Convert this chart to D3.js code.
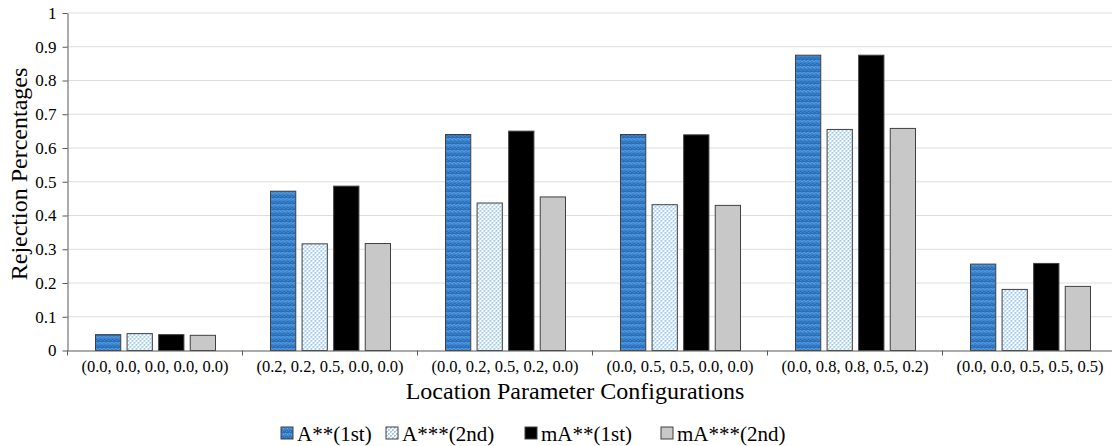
<!DOCTYPE html>
<html>
<head>
<meta charset="utf-8">
<script src="https://cdn.jsdelivr.net/npm/d3@7"></script>
<style>
  body { margin: 0; background: #fff; }
</style>
</head>
<body>
<svg id="chart" width="1112" height="446"></svg>
<script>
// categories (location parameter configurations)
var categories = ["(0.0, 0.0, 0.0, 0.0, 0.0)", "(0.2, 0.2, 0.5, 0.0, 0.0)", "(0.0, 0.2, 0.5, 0.2, 0.0)",
                  "(0.0, 0.5, 0.5, 0.0, 0.0)", "(0.0, 0.8, 0.8, 0.5, 0.2)", "(0.0, 0.0, 0.5, 0.5, 0.5)"];
var seriesNames = ["A**(1st)", "A***(2nd)", "mA**(1st)", "mA***(2nd)"];

// rejection percentages, one array per series
var a1st  = [0.047, 0.472, 0.640, 0.640, 0.875, 0.256];
var a2nd  = [0.050, 0.316, 0.437, 0.432, 0.655, 0.181];
var ma1st = [0.047, 0.487, 0.650, 0.639, 0.875, 0.258];
var ma2nd = [0.045, 0.317, 0.455, 0.430, 0.658, 0.190];

var yTicks = [0, 0.1, 0.2, 0.3, 0.4, 0.5, 0.6, 0.7, 0.8, 0.9, 1];

var allSeries = [a1st, a2nd, ma1st, ma2nd];
var fills = ["url(#pat1)", "url(#pat2)", "#000000", "#c8c8c8"];
var serif = "'Liberation Serif', 'Times New Roman', serif";

var svg = d3.select("#chart");

/////////////////////////////
// fill patterns ////////////
var defs = svg.append("defs");

// blue striped / checked pattern
var p1 = defs.append("pattern")
  .attr("id", "pat1").attr("patternUnits", "userSpaceOnUse")
  .attr("width", 4).attr("height", 6);
p1.append("rect").attr("width", 4).attr("height", 6).attr("fill", "#3a86d2");
p1.append("rect").attr("y", 3).attr("width", 4).attr("height", 3).attr("fill", "#2c6fb6");
p1.append("rect").attr("x", 0).attr("y", 0).attr("width", 1).attr("height", 1).attr("fill", "#6aa9e3");
p1.append("rect").attr("x", 2).attr("y", 1).attr("width", 1).attr("height", 1).attr("fill", "#6aa9e3");
p1.append("rect").attr("x", 1).attr("y", 4).attr("width", 1).attr("height", 1).attr("fill", "#4a8fd6");
p1.append("rect").attr("x", 3).attr("y", 3).attr("width", 1).attr("height", 1).attr("fill", "#4a8fd6");

// light blue checker pattern
var p2 = defs.append("pattern")
  .attr("id", "pat2").attr("patternUnits", "userSpaceOnUse")
  .attr("width", 4).attr("height", 4);
p2.append("rect").attr("width", 4).attr("height", 4).attr("fill", "#ffffff");
p2.append("rect").attr("x", 0).attr("y", 0).attr("width", 2).attr("height", 2).attr("fill", "#9fcaf0");
p2.append("rect").attr("x", 2).attr("y", 2).attr("width", 2).attr("height", 2).attr("fill", "#9fcaf0");
p2.append("rect").attr("x", 1).attr("y", 1).attr("width", 1).attr("height", 1).attr("fill", "#d4e7f8");
p2.append("rect").attr("x", 3).attr("y", 3).attr("width", 1).attr("height", 1).attr("fill", "#d4e7f8");

/////////////////////////////
// scales ///////////////////
var plotLeft = 67.5, plotRight = 1117.5, plotTop = 13, plotBottom = 350.5;

var x0 = d3.scaleBand().domain(categories).range([plotLeft, plotRight]);
var x1 = d3.scaleBand().domain(d3.range(seriesNames.length))
  .range([28, x0.bandwidth() - 27]).paddingInner(0.2);
var y = d3.scaleLinear().domain([0, 1]).range([plotBottom, plotTop]);

// gridlines
svg.append("g").selectAll("line")
  .data(yTicks.filter(function(d) { return d > 0; }))
  .enter().append("line")
  .attr("x1", plotLeft).attr("x2", plotRight)
  .attr("y1", function(d) { return y(d); })
  .attr("y2", function(d) { return y(d); })
  .attr("stroke", "#dedede").attr("stroke-width", 1);

// bars
var groups = svg.append("g").selectAll("g")
  .data(categories)
  .enter().append("g")
  .attr("transform", function(d) { return "translate(" + x0(d) + ",0)"; });

groups.selectAll("rect")
  .data(function(d, ci) {
    return allSeries.map(function(s, si) { return { si: si, v: s[ci] }; });
  })
  .enter().append("rect")
  .attr("x", function(d) { return x1(d.si); })
  .attr("width", x1.bandwidth())
  .attr("y", function(d) { return y(d.v); })
  .attr("height", function(d) { return y(0) - y(d.v); })
  .attr("fill", function(d) { return fills[d.si]; })
  .attr("stroke", "#404040").attr("stroke-width", 1);

// y axis
var yAxis = svg.append("g")
  .attr("transform", "translate(" + plotLeft + ",0)")
  .call(d3.axisLeft(y).tickValues(yTicks).tickSize(5).tickSizeOuter(0)
    .tickFormat(function(d) { return d3.format("~g")(d); }));
yAxis.attr("font-family", serif).attr("font-size", 17);
yAxis.select(".domain").attr("stroke", "#595959");
yAxis.selectAll(".tick line").attr("stroke", "#595959");
yAxis.selectAll("text").attr("x", -11).attr("fill", "#000");

// x axis
var xAxis = svg.append("g")
  .attr("transform", "translate(0," + plotBottom + ")")
  .call(d3.axisBottom(x0).tickSize(0).tickSizeOuter(0));
xAxis.attr("font-family", serif).attr("font-size", 16.5);
xAxis.select(".domain").attr("stroke", "#595959");
xAxis.selectAll("text").attr("y", 10).attr("fill", "#000");

// ticks between categories
svg.append("g").selectAll("line")
  .data(categories)
  .enter().append("line")
  .attr("x1", function(d) { return x0(d); })
  .attr("x2", function(d) { return x0(d); })
  .attr("y1", plotBottom).attr("y2", plotBottom + 5)
  .attr("stroke", "#595959");

// axis titles
svg.append("text")
  .attr("text-anchor", "middle")
  .attr("font-family", serif)
  .attr("font-size", 24)
  .attr("transform", "translate(27,174) rotate(-90)")
  .text("Rejection Percentages");

svg.append("text")
  .attr("text-anchor", "middle")
  .attr("font-family", serif)
  .attr("font-size", 24)
  .attr("x", 575).attr("y", 399)
  .text("Location Parameter Configurations");

// legend
var legendX = [281, 386, 525, 661];
var legend = svg.append("g").selectAll("g")
  .data(seriesNames)
  .enter().append("g")
  .attr("transform", function(d, i) { return "translate(" + legendX[i] + ",427)"; });
legend.append("rect")
  .attr("width", 12).attr("height", 12)
  .attr("fill", function(d, i) { return fills[i]; })
  .attr("stroke", "#404040").attr("stroke-width", 1);
legend.append("text")
  .attr("x", 16).attr("y", 14)
  .attr("font-family", serif)
  .attr("font-size", 21)
  .text(function(d) { return d; });
</script>
</body>
</html>
